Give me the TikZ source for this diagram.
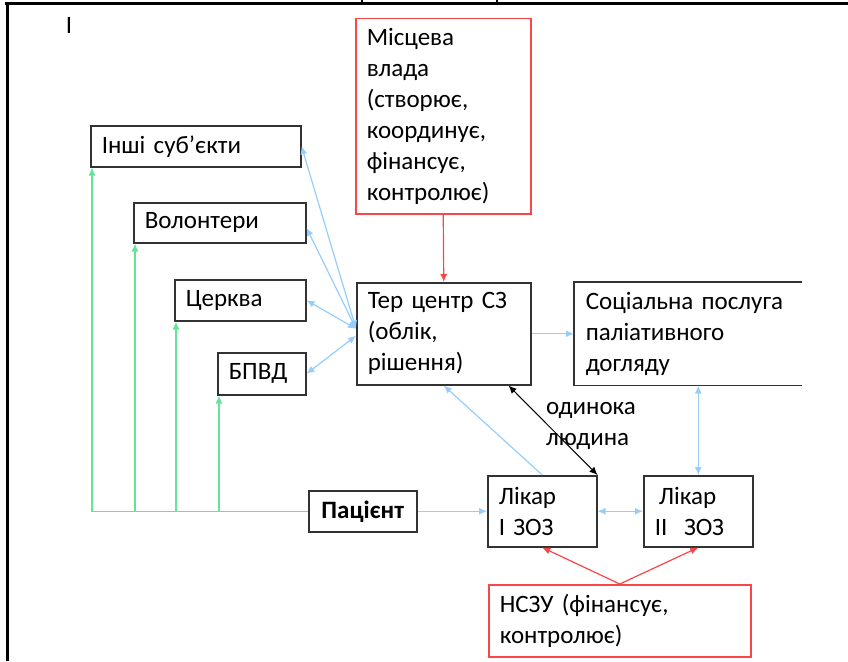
\documentclass[tikz,border=0pt]{standalone}
\usepackage{fontspec}
\setmainfont{Carlito}
\usetikzlibrary{arrows.meta}
\definecolor{boxline}{RGB}{50,50,50}
\definecolor{redline}{RGB}{250,70,70}
\definecolor{bluearrow}{RGB}{150,205,250}
\definecolor{greenarrow}{RGB}{100,228,150}
\tikzstyle{every node}=[font=\fontsize{25}{31}\selectfont]
\tikzstyle{box}=[draw=boxline, line width=1.5pt, anchor=north west, align=left, inner xsep=11pt, inner ysep=0pt]
\tikzstyle{redbox}=[box, draw=redline]
\tikzstyle{bluelink}=[draw=bluearrow, line width=1.2pt]
\tikzstyle{greenlink}=[draw=greenarrow, line width=1.2pt]
\tikzstyle{redlink}=[draw=redline, line width=1.2pt]
\tikzset{>={Latex[length=8pt,width=7pt]}}

\begin{document}
\begin{tikzpicture}[x=1pt,y=-1pt]
            \useasboundingbox (0,0) rectangle (848,661);
            % frame of the table cell
            \draw[line width=3pt] (5,4) -- (848,4);
            \draw[line width=3pt] (7,4) -- (7,661);
            \draw[line width=1.5pt] (362,0) -- (362,4);
            \draw[line width=1.5pt] (497,0) -- (497,4);
            \node (mark) at (69,25) {I};

            \node[redbox, text width=153pt, minimum height=195pt] (vlada) at (355,18)
                {Місцева\\влада\\(створює,\\координує,\\фінансує,\\контролює)};
            \node[box, text width=152pt, minimum height=102pt] (ter) at (356,282)
                {Тер центр СЗ\\(облік,\\рішення)};
            \node[box, draw=none, text width=204pt, minimum height=102pt] (soc) at (574,282)
                {Соціальна послуга\\паліативного\\догляду};
            \draw[draw=boxline, line width=1.5pt] (soc.north east) -- (soc.north west)
                -- (soc.south west) -- (soc.south east);

            \node[box, text width=188pt, minimum height=41pt] (inshi) at (90,125) {Інші суб’єкти};
            \node[box, text width=150pt, minimum height=40pt] (volont) at (133,202) {Волонтери};
            \node[box, text width=109pt, minimum height=41pt] (tserkva) at (174,279) {Церква};
            \node[box, text width=66pt, minimum height=42pt] (bpvd) at (217,352) {БПВД};

            \node[box, align=center, text width=86pt, minimum height=41pt] (patient) at (308,490)
                {\textbf{Пацієнт}};
            \node[box, text width=87pt, minimum height=71pt] (likar1) at (487,475) {Лікар\\I ЗОЗ};
            \node[box, text width=87pt, minimum height=71pt] (likar2) at (643,475) {\,Лікар\\II\ \ ЗОЗ};
            \node[redbox, text width=240pt, minimum height=72pt] (nszu) at (488,584)
                {НСЗУ (фінансує,\\контролює)};
            \node[anchor=north west, align=left, inner sep=0pt] (alone) at (546,402)
                {одинока\\людина};

            % links
            \draw[redlink, ->] (vlada.south) -- (ter.north);
            \draw[bluelink, ->] (ter.east) -- (soc.west);
            \draw[bluelink, <->] ([yshift=5pt]ter.west) -- (inshi.east);
            \draw[bluelink, <->] ([yshift=5pt]ter.west) -- ([yshift=-5pt]volont.east);
            \draw[bluelink, <->] ([yshift=5pt]ter.west) -- (tserkva.east);
            \draw[bluelink, <->] ([yshift=-2pt]ter.west) -- (bpvd.east);

            \draw[greenlink, ->] (patient.west) -| ([xshift=2pt]inshi.south west);
            \foreach \n in {volont, tserkva, bpvd}
                \draw[greenlink, ->] ([xshift=2pt]patient.west -| \n.south west) -- ([xshift=2pt]\n.south west);

            \draw[bluelink, ->] (patient.east) -- (likar1.west);
            \draw[bluelink, <->] (likar1.east) -- (likar2.west);
            \draw[bluelink, <->] (likar2.north |- soc.south) -- (likar2.north);
            \draw[bluelink, ->] (likar1.north) -- (ter.south);
            \draw[line width=1pt, <->] ([xshift=-23pt]ter.south east) -- (likar1.north east);
            \draw[redlink, ->] (nszu.north) -- (likar1.south);
            \draw[redlink, ->] (nszu.north) -- (likar2.south);
        \end{tikzpicture}
\end{document}
